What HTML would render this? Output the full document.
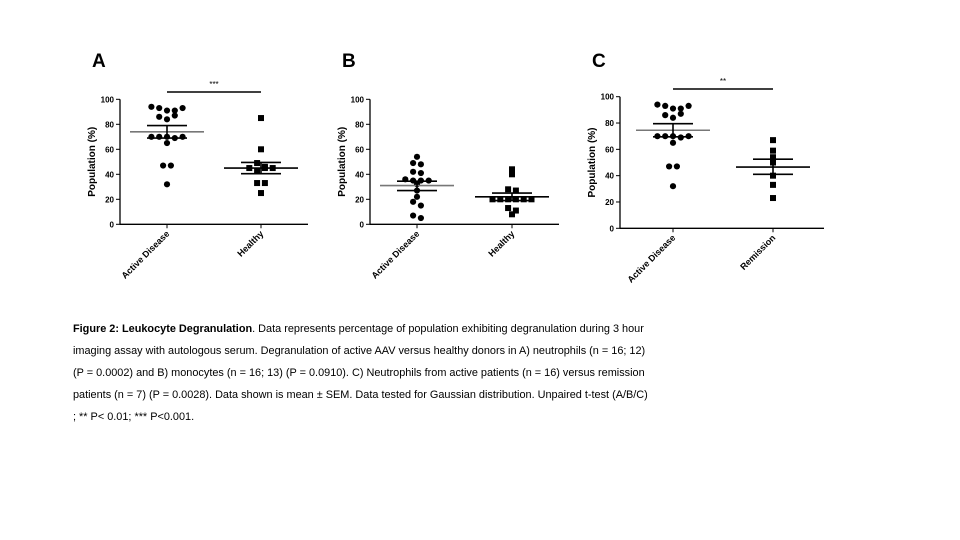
<!DOCTYPE html>
<html><head><meta charset="utf-8"><style>
body{margin:0;background:#fff;width:960px;height:540px;overflow:hidden}
svg{position:absolute;left:0;top:0}
.cap{position:absolute;left:73px;top:318px;width:620px;font-family:"Liberation Sans",sans-serif;font-size:10.9px;line-height:22px;color:#000;white-space:nowrap}
</style></head><body>
<svg id="fig" width="960" height="300" font-family="Liberation Sans, sans-serif"></svg>
<div class="cap">
<div><b>Figure 2: Leukocyte Degranulation</b>. Data represents percentage of population exhibiting degranulation during 3 hour</div>
<div>imaging assay with autologous serum. Degranulation of active AAV versus healthy donors in A) neutrophils (n = 16; 12)</div>
<div>(P = 0.0002) and B) monocytes (n = 16; 13) (P = 0.0910). C) Neutrophils from active patients (n = 16) versus remission</div>
<div>patients (n = 7) (P = 0.0028). Data shown is mean ± SEM. Data tested for Gaussian distribution. Unpaired t-test (A/B/C)</div>
<div>; ** P&lt; 0.01; *** P&lt;0.001.</div>
</div>
<script>
const yTicks=[0,20,40,60,80,100];
const activeA=[94,93,91,91,93,86,84,87,70,70,70,69,70,65,47,47,32];
const healthyA=[85,60,49,46,45,43,45,45,33,33,25];
const statsA=[[74,79,69],[45,49.5,40.5]];
const activeB=[54,49,48,42,41,36,35,35,35,32,27,22,18,15,7,5];
const healthyB=[44,40,28,27,20,20,20,20,20,20,13,11,8];
const statsB=[[31,34.5,27],[22,25,19]];
const activeC=[94,93,91,91,93,86,84,87,70,70,70,69,70,65,47,47,32];
const remissionC=[67,59,54,50,40,33,23];
const statsC=[[74.5,79.5,69.5],[46.5,52.5,41]];
const NS="http://www.w3.org/2000/svg";
const svg=document.getElementById('fig');
function mk(tag,attrs,parent){const e=document.createElementNS(NS,tag);for(const k in attrs)e.setAttribute(k,attrs[k]);(parent||svg).appendChild(e);return e;}
function panel(p){
  const g=mk('g',{});
  
  
  const y=v=>p.y0+(p.y100-p.y0)*v/100;
  const t=mk('text',{x:p.ax-28,y:67,'font-size':19,'font-weight':'bold'},g);t.textContent=p.letter;
  
  mk('line',{x1:p.ax,y1:y(100),x2:p.ax,y2:y(0)+0.5,stroke:'#000','stroke-width':1.3},g);
  mk('line',{x1:p.ax,y1:y(0),x2:p.xend,y2:y(0),stroke:'#000','stroke-width':1.3},g);
  yTicks.forEach(v=>{mk('line',{x1:p.ax-4,y1:y(v),x2:p.ax,y2:y(v),stroke:'#000'},g);
    const l=mk('text',{x:p.ax-6,y:y(v)+3,'font-size':8,'font-weight':'bold','text-anchor':'end'},g);l.textContent=v;
    });
  const yt=mk('text',{x:0,y:0,'font-size':10,'font-weight':'bold','text-anchor':'middle',transform:`translate(${p.ax-25},${y(50)}) rotate(-90)`},g);
  yt.textContent='Population (%)';
  p.groups.forEach((gr,gi)=>{
    const cx=p.cx[gi];
    mk('line',{x1:cx,y1:y(0),x2:cx,y2:y(0)+4,stroke:'#000'},g);
    const xl=mk('text',{x:0,y:0,'font-size':9,'font-weight':'bold','text-anchor':'end',transform:`translate(${cx+3},${y(0)+10}) rotate(-45)`},g);
    xl.textContent=gr.name;
    const vals=gr.vals.slice();const used=new Array(vals.length).fill(false);
    for(let i=0;i<vals.length;i++){if(used[i])continue;const row=[];
      for(let j=i;j<vals.length;j++){if(!used[j]&&Math.abs(vals[j]-vals[i])<=3.5){row.push(j);used[j]=true;}}
      row.forEach((j,k)=>{const dx=(k-(row.length-1)/2)*7.8;const py=y(vals[j]);
        let m;
        if(gr.sq)m=mk('rect',{x:cx+dx-3,y:py-3,width:6,height:6,fill:'#000'},g);
        else m=mk('circle',{cx:cx+dx,cy:py,r:3.1,fill:'#000'},g);
        });
    }
    const s=gr.stats;
    const ml=mk('line',{x1:cx-37,y1:y(s[0]),x2:cx+37,y2:y(s[0]),stroke:gi==0?'#777':'#000','stroke-width':1.6},g);
    
    mk('line',{x1:cx,y1:y(s[1]),x2:cx,y2:y(s[2]),stroke:'#000','stroke-width':1.6},g);
    mk('line',{x1:cx-20,y1:y(s[1]),x2:cx+20,y2:y(s[1]),stroke:'#000','stroke-width':1.6},g);
    mk('line',{x1:cx-20,y1:y(s[2]),x2:cx+20,y2:y(s[2]),stroke:'#000','stroke-width':1.6},g);
  });
  if(p.sig){
    const sb=mk('line',{x1:p.cx[0],y1:p.sigY,x2:p.cx[1],y2:p.sigY,stroke:'#000','stroke-width':1.6},g);
    
    const st=mk('text',{x:(p.cx[0]+p.cx[1])/2,y:p.sigY-5,'font-size':8,'text-anchor':'middle'},g);st.textContent=p.sig;
    
  }
}
panel({letter:'A',ax:120,xend:308,y0:224.3,y100:99.3,cx:[167,261],sig:'***',sigY:92,
  groups:[{name:'Active Disease',vals:activeA,stats:statsA[0]},{name:'Healthy',vals:healthyA,stats:statsA[1],sq:true}]});
panel({letter:'B',ax:370,xend:559,y0:224.3,y100:99.3,cx:[417,512],
  groups:[{name:'Active Disease',vals:activeB,stats:statsB[0]},{name:'Healthy',vals:healthyB,stats:statsB[1],sq:true}]});
panel({letter:'C',ax:620,xend:824,y0:228.3,y100:96.7,cx:[673,773],sig:'**',sigY:89,
  groups:[{name:'Active Disease',vals:activeC,stats:statsC[0]},{name:'Remission',vals:remissionC,stats:statsC[1],sq:true}]});
</script>
</body></html>
